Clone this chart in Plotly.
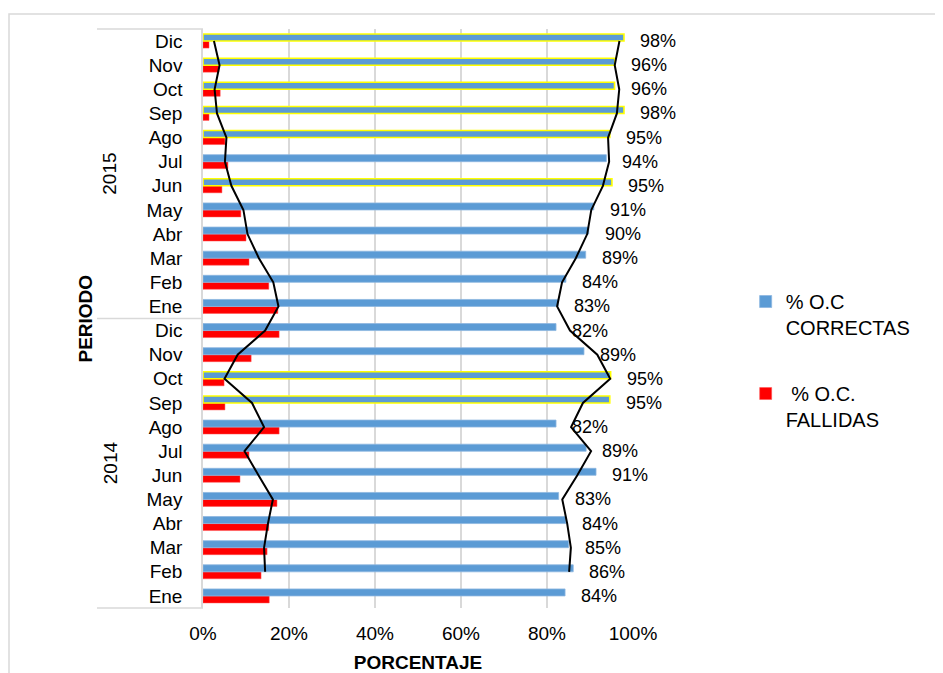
import plotly.graph_objects as go

months = ["Ene", "Feb", "Mar", "Abr", "May", "Jun", "Jul", "Ago", "Sep", "Oct", "Nov", "Dic"]
years = ["2014", "2015"]
categories = [f"{m} {y}" for y in years for m in months]
month_labels = months * 2

correctas = [84.2, 86.1, 85.0, 84.4, 82.7, 91.4, 89.1, 82.1, 94.6, 94.8, 88.6, 82.1,
             82.6, 84.4, 89.0, 89.7, 90.9, 95.1, 93.8, 94.6, 97.9, 95.7, 95.8, 97.9]
fallidas = [15.4, 13.5, 14.9, 15.3, 17.2, 8.6, 10.7, 17.7, 5.1, 4.9, 11.2, 17.7,
            17.4, 15.3, 10.7, 10.0, 8.8, 4.4, 5.8, 5.1, 1.4, 4.0, 3.7, 1.4]

FONT = "Liberation Sans, Arial, sans-serif"
BLUE = "#5B9BD5"
RED = "#FF0000"
GRID = "#D9D9D9"

# page body adds an 8px offset; plot area in screen px: x 203..633, y 29..608
OFF = 8
W, H = 943, 673
L, R, T, B = 203 - OFF, W - (633 - OFF), 29 - OFF, H - (608 - OFF)


def moving_avg(vals):
    return [(vals[i - 1] + vals[i]) / 2 for i in range(1, len(vals))]


fig = go.Figure()

fig.add_trace(go.Bar(
    y=categories, x=fallidas, orientation="h", name=" % O.C.<br>FALLIDAS",
    marker=dict(color=RED, line=dict(color="#FF5050", width=0.5)),
    legendgroup="b", legendrank=2,
))
fig.add_trace(go.Bar(
    y=categories, x=correctas, orientation="h", name="% O.C<br>CORRECTAS",
    marker=dict(color=BLUE,
                line=dict(color=["#FFFF00" if v >= 94.5 else "#8DB6E0" for v in correctas],
                          width=[1.6 if v >= 94.5 else 0.8 for v in correctas])),
    legendgroup="a", legendrank=1,
))

# 2-period moving average trendlines
fig.add_trace(go.Scatter(
    y=categories[1:], x=moving_avg(correctas), mode="lines",
    line=dict(color="black", width=2), showlegend=False, hoverinfo="skip",
))
fig.add_trace(go.Scatter(
    y=categories[1:], x=moving_avg(fallidas), mode="lines",
    line=dict(color="black", width=2), showlegend=False, hoverinfo="skip",
))

annotations = []
for c, v in zip(categories, correctas):
    annotations.append(dict(
        x=v, y=c, xref="x", yref="y", text=f"{v:.0f}%", showarrow=False,
        xanchor="left", yanchor="middle", xshift=14,
        font=dict(family=FONT, size=18, color="black"),
    ))

annotations += [
    dict(x=(110 - 203) / 430, y=0.75, xref="paper", yref="y domain", text="2015",
         showarrow=False, xanchor="center", yanchor="middle", textangle=-90,
         font=dict(family=FONT, size=19, color="black")),
    dict(x=(110 - 203) / 430, y=0.25, xref="paper", yref="y domain", text="2014",
         showarrow=False, xanchor="center", yanchor="middle", textangle=-90,
         font=dict(family=FONT, size=19, color="black")),
    dict(x=(85 - 203) / 430, y=0.5, xref="paper", yref="y domain", text="<b>PERIODO</b>",
         showarrow=False, xanchor="center", yanchor="middle", textangle=-90,
         font=dict(family=FONT, size=19, color="black")),
]

shapes = []
for yy in [0, 0.5, 1]:
    shapes.append(dict(type="line", xref="paper", yref="y domain", x0=(97 - 203) / 430, x1=0,
                       y0=yy, y1=yy, line=dict(color=GRID, width=1.5)))
shapes.append(dict(type="rect", xref="paper", yref="paper", x0=(9 - 203) / 430, x1=2,
                   y0=-0.3, y1=(608 - 14) / 579, line=dict(color=GRID, width=1.5),
                   layer="below"))

fig.update_layout(
    width=W, height=H,
    margin=dict(l=L, r=R, t=T, b=B, autoexpand=False),
    paper_bgcolor="white", plot_bgcolor="white",
    barmode="group", bargap=0.42, bargroupgap=0,
    font=dict(family=FONT, size=18, color="black"),
    xaxis=dict(range=[0, 100], autorange=False, dtick=20, ticksuffix="%", showgrid=True,
               gridcolor=GRID, gridwidth=1.5, zeroline=False, showline=False, ticks="",
               ticklabelstandoff=12, tickfont=dict(size=19),
               title=dict(text="<b>PORCENTAJE</b>", font=dict(size=19), standoff=12)),
    yaxis=dict(type="category", categoryorder="array", categoryarray=categories,
               range=[-0.5, 23.5], autorange=False,
               tickmode="array", tickvals=categories, ticktext=month_labels,
               showgrid=False, zeroline=False, showline=True, linecolor=GRID, linewidth=1.5,
               ticks="", ticklabelstandoff=15, tickfont=dict(size=19)),
    legend=dict(x=1.262, y=0.563, xanchor="left", yanchor="top",
                traceorder="grouped", tracegroupgap=37, valign="top",
                itemwidth=30, font=dict(size=20), bgcolor="rgba(0,0,0,0)"),
    annotations=annotations,
    shapes=shapes,
)

fig.write_html("out.html")
